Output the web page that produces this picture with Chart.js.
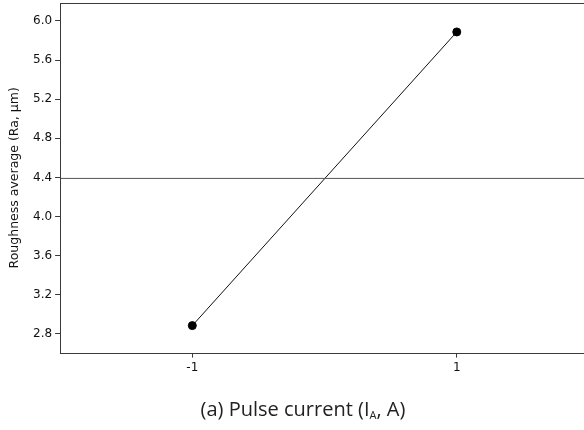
<!DOCTYPE html>
<html>
<head>
<meta charset="utf-8">
<script src="https://cdn.jsdelivr.net/npm/chart.js@4"></script>
<style>
  html, body { margin: 0; padding: 0; background: #fff; overflow: hidden; }
  #wrap { position: relative; width: 594px; height: 430px; }
  #myChart { position: absolute; left: 0; top: -2px; }
  #caption {
    position: absolute; left: 0; width: 606px; top: 395px;
    text-align: center; font-family: "Open Sans", sans-serif; font-size: 20px; color: #222;
  }
  #caption sub { font-size: 11px; vertical-align: -3px; }
</style>
</head>
<body>
<div id="wrap">
  <canvas id="myChart" width="594" height="432"></canvas>
  <div id="caption">(a) Pulse current (I<sub>A</sub>, A)</div>
</div>
<script>
// pulse current levels and mean roughness
const levels = [-1, 1];
const roughness = [2.885, 5.888];
const meanLine = [4.39, 4.39];
const meanX = [-2, 2];
const yTicks = [2.8, 3.2, 3.6, 4.0, 4.4, 4.8, 5.2, 5.6, 6.0];
const xTicks = [-1, 1];

const frame = {
  id: 'frame',
  afterDraw(chart) {
    const a = chart.chartArea;
    const ctx = chart.ctx;
    ctx.save();
    ctx.strokeStyle = '#3a3a3a';
    ctx.lineWidth = 1;
    ctx.strokeRect(Math.round(a.left) + 0.5, Math.round(a.top) + 0.5,
      Math.round(a.right - a.left), Math.round(a.bottom - a.top));
    ctx.restore();
  }
};

const ctx = document.getElementById('myChart').getContext('2d');
new Chart(ctx, {
  type: 'scatter',
  data: {
    datasets: [
      {
        data: meanX.map((x, i) => ({ x: x, y: meanLine[i] })),
        showLine: true,
        borderColor: '#555',
        borderWidth: 1,
        pointRadius: 0
      },
      {
        data: levels.map((x, i) => ({ x: x, y: roughness[i] })),
        showLine: true,
        borderColor: '#111',
        borderWidth: 1,
        pointRadius: 4,
        pointBackgroundColor: '#000',
        pointBorderColor: '#000'
      }
    ]
  },
  options: {
    responsive: false,
    animation: false,
    layout: { padding: { left: 7, right: 5, top: 1, bottom: 52 } },
    plugins: { legend: { display: false }, tooltip: { enabled: false } },
    scales: {
      x: {
        type: 'linear', min: -2, max: 2,
        afterBuildTicks: s => { s.ticks = xTicks.map(v => ({ value: v })); },
        ticks: { color: '#111', font: { family: 'DejaVu Sans', size: 12 }, padding: 3,
          callback: v => String(v) },
        grid: { drawOnChartArea: false, tickLength: 5, color: '#3a3a3a' },
        border: { display: false }
      },
      y: {
        type: 'linear', min: 2.609, max: 6.184,
        afterBuildTicks: s => { s.ticks = yTicks.map(v => ({ value: v })); },
        // ticks don't sit at the ends, so no need to pad for half labels
        afterFit: s => { s.paddingTop = 0; s.paddingBottom = 0; },
        ticks: { color: '#111', font: { family: 'DejaVu Sans', size: 12 }, padding: 3,
          callback: v => v.toFixed(1) },
        grid: { drawOnChartArea: false, tickLength: 5, color: '#3a3a3a' },
        border: { display: false },
        title: { display: true, text: 'Roughness average (Ra, µm)', color: '#111',
          font: { family: 'DejaVu Sans', size: 12.5 }, padding: { top: 0, bottom: 8 } }
      }
    }
  },
  plugins: [frame]
});
</script>
</body>
</html>
